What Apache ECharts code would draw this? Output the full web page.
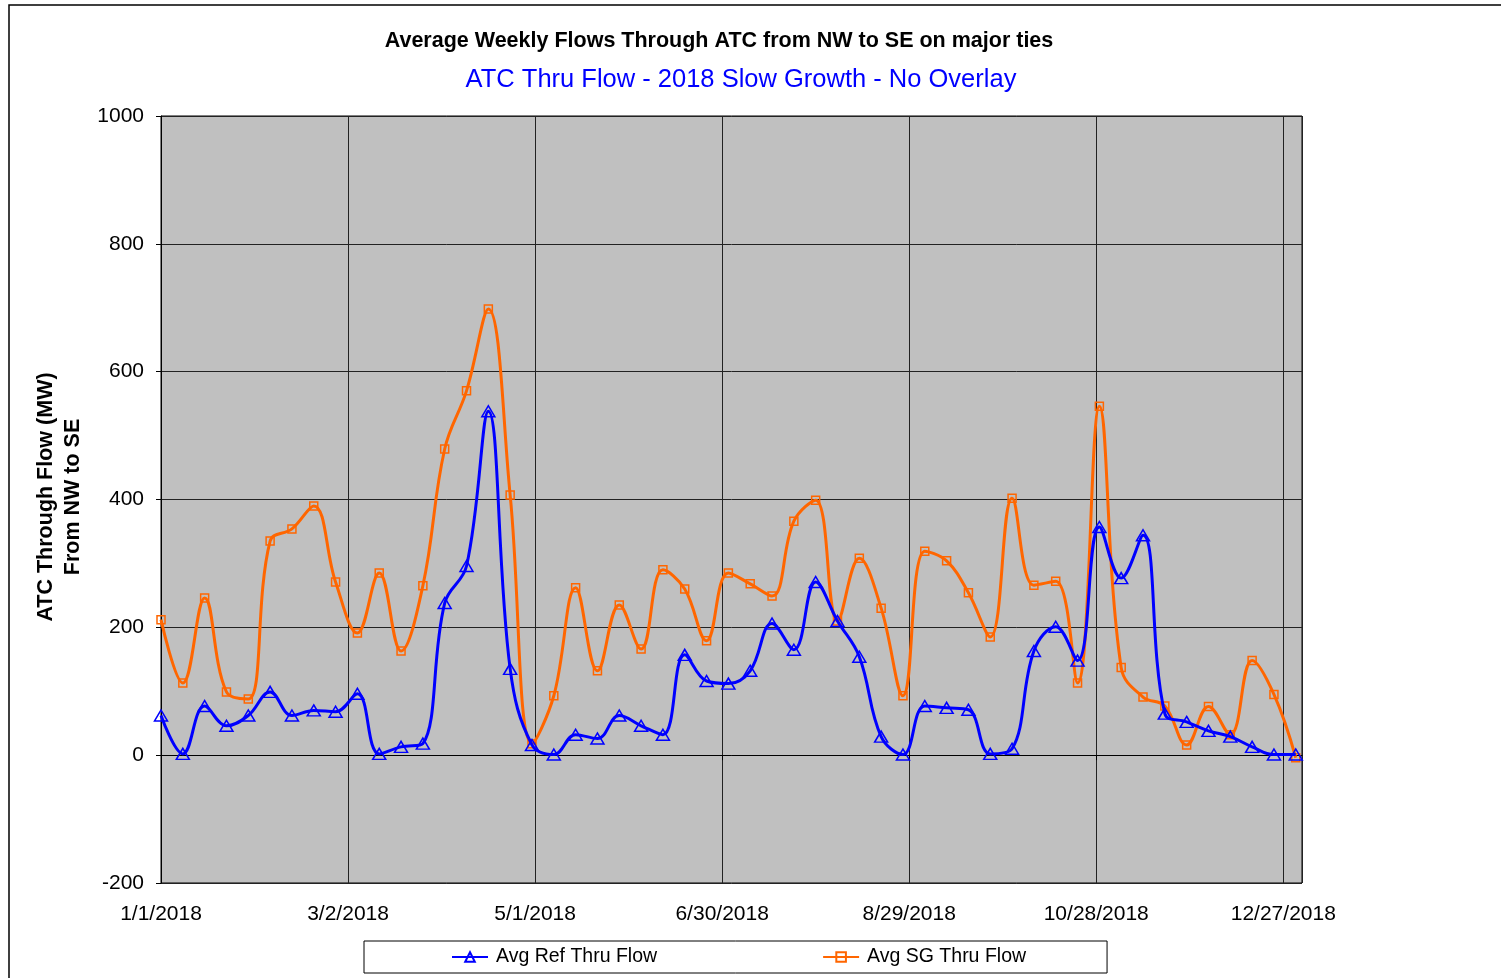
<!DOCTYPE html>
<html>
<head>
<meta charset="utf-8">
<script src="https://cdn.jsdelivr.net/npm/echarts@6/dist/echarts.min.js"></script>
<style>
html,body{margin:0;padding:0;background:#fff;}
#chart{width:1501px;height:978px;}
</style>
</head>
<body>
<div id="chart"></div>
<script>
// Weekly data, first week starting 1/1/2018, one point every 7 days
const startYear = 2018;
const weekDay = [0,7,14,21,28,35,42,49,56,63,70,77,84,91,98,105,112,119,126,133,140,147,154,161,168,175,182,189,196,203,210,217,224,231,238,245,252,259,266,273,280,287,294,301,308,315,322,329,336,343,350,357,364];
const refFlow = [62,2,77,46,62,99,62,70,68,96,2,13,18,238,296,538,135,16,1,32,26,62,46,32,157,116,112,132,206,165,271,210,154,29,1,77,74,71,2,10,163,201,148,357,277,344,65,52,38,29,13,1,1];
const sgFlow = [212,113,246,99,88,335,354,390,271,191,285,163,265,479,570,698,407,18,93,262,132,235,166,290,260,179,285,268,249,366,399,210,308,230,93,319,304,254,185,402,266,272,113,546,137,91,77,16,76,32,148,95,-4];
const yTicks = {min:-200, max:1000, interval:200};
const xTicks = {min:0, max:366, interval:60};
const seriesNames = ['Avg Ref Thru Flow','Avg SG Thru Flow'];
const titleText = 'Average Weekly Flows Through ATC from NW to SE on major ties';
const subtitleText = 'ATC Thru Flow - 2018 Slow Growth - No Overlay';
const yTitle = 'ATC Through Flow (MW)\nFrom NW to SE';

function fmtDate(d){
  const dt = new Date(startYear,0,1+Math.round(d));
  return (dt.getMonth()+1)+'/'+dt.getDate()+'/'+dt.getFullYear();
}

const chart = echarts.init(document.getElementById('chart'), null, {renderer:'canvas'});
const FONT = '"Liberation Sans", Arial, sans-serif';
chart.setOption({
  animation:false,
  backgroundColor:'#fff',
  graphic:[
    {type:'rect', shape:{x:9,y:5,width:1600,height:1000}, style:{fill:'none',stroke:'#000',lineWidth:1.5}, z:-10},
    {type:'text', x:719, y:41, style:{text:titleText, font:'bold 21.5px '+FONT, fill:'#000', textAlign:'center', textVerticalAlign:'middle'}},
    {type:'text', x:741, y:80, style:{text:subtitleText, font:'25.5px '+FONT, fill:'#0000FF', textAlign:'center', textVerticalAlign:'middle'}},
    {type:'text', x:60, y:497, rotation:Math.PI/2, style:{text:yTitle, font:'bold 21.5px '+FONT, fill:'#000', textAlign:'center', textVerticalAlign:'middle', lineHeight:27}}
  ],
  grid:{left:161, right:199, top:116, bottom:95, show:true, backgroundColor:'#C0C0C0', borderColor:'#000', borderWidth:1},
  legend:{
    left:364, top:941, orient:'horizontal',
    padding:[6,81,6,87], itemGap:165, itemWidth:36, itemHeight:12,
    borderColor:'#000', borderWidth:1, backgroundColor:'#fff',
    textStyle:{fontFamily:FONT, fontSize:19.5, color:'#000', padding:[0,0,0,3]},
    data:seriesNames
  },
  xAxis:{
    type:'value', min:xTicks.min, max:xTicks.max, interval:xTicks.interval,
    axisLine:{show:true, lineStyle:{color:'#000', width:1}},
    axisTick:{show:true, inside:false, length:5, lineStyle:{color:'#000'}},
    axisLabel:{show:true, showMaxLabel:false, margin:21, color:'#000', fontFamily:FONT, fontSize:21,
      formatter:function(v){ return (v % 60 === 0) ? fmtDate(v) : ''; }},
    splitLine:{show:true, lineStyle:{color:'#222', width:1}}
  },
  yAxis:{
    type:'value', min:yTicks.min, max:yTicks.max, interval:yTicks.interval,
    axisLine:{show:true, lineStyle:{color:'#000', width:1}},
    axisTick:{show:true, inside:false, length:5, lineStyle:{color:'#000'}},
    axisLabel:{margin:17, color:'#000', fontFamily:FONT, fontSize:21, formatter:function(v){ return String(v); }},
    splitLine:{show:true, lineStyle:{color:'#222', width:1}}
  },
  series:[
    {
      name:seriesNames[0], type:'line', smooth:0.4,
      data:weekDay.map((d,i)=>[d, refFlow[i]]),
      symbol:'triangle', symbolSize:[13,11],
      lineStyle:{color:'#0000FF', width:3},
      itemStyle:{color:'rgba(0,0,0,0)', borderColor:'#0000FF', borderWidth:1.5},
      z:3
    },
    {
      name:seriesNames[1], type:'line', smooth:0.4,
      data:weekDay.map((d,i)=>[d, sgFlow[i]]),
      symbol:'rect', symbolSize:8,
      lineStyle:{color:'#FF6600', width:3},
      itemStyle:{color:'rgba(0,0,0,0)', borderColor:'#FF6600', borderWidth:1.5},
      z:2
    }
  ]
});
</script>
</body>
</html>
